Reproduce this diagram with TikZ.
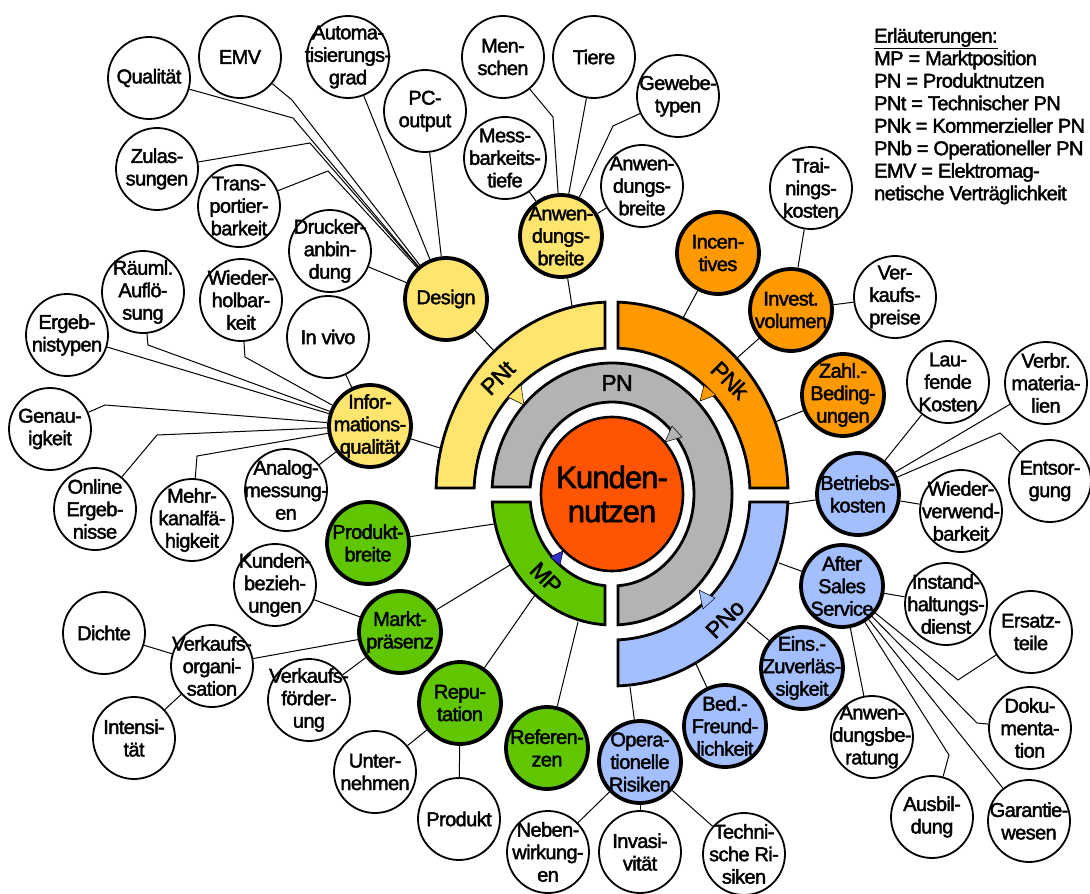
\documentclass[tikz,border=0pt]{standalone}
\usepackage{fontspec}
\setmainfont{Liberation Sans}[LetterSpace=-3, FakeBold=2]
\usetikzlibrary{shapes.geometric}
\newcommand\nf{\fontsize{20}{22.5}\selectfont}
\newcommand\cf{\fontsize{31}{34}\selectfont}
\newcommand\rf{\fontsize{23}{25}\selectfont}
\definecolor{cyel}{HTML}{FFE46E}
\definecolor{corg}{HTML}{FF9900}
\definecolor{cblu}{HTML}{A3BFFF}
\definecolor{cgrn}{HTML}{5FC600}
\definecolor{cgry}{HTML}{B3B3B3}
\definecolor{cred}{HTML}{FF5500}
\definecolor{cdblu}{HTML}{3030C8}
\tikzset{
  tx/.style={align=center, font=\nf, inner sep=0pt},
  ctx/.style={align=center, font=\cf, inner sep=0pt},
  rl/.style={font=\rf, inner sep=0pt},
  basec/.style={circle, inner sep=0pt, draw=black, minimum size=82pt},
  wnode/.style={basec, line width=1.8pt, fill=white, label={[tx]center:{#1}}},
  ynode/.style={basec, line width=3.8pt, fill=cyel, label={[tx]center:{#1}}},
  onode/.style={basec, line width=3.8pt, fill=corg, label={[tx]center:{#1}}},
  bnode/.style={basec, line width=3.8pt, fill=cblu, label={[tx]center:{#1}}},
  gnode/.style={basec, line width=3.8pt, fill=cgrn, label={[tx]center:{#1}}},
  con/.style={draw=black, line width=1pt},
  ring/.style={draw=black, line width=2.8pt, line join=miter},
  tri/.style={draw=black, line width=0.5pt},
}
\begin{document}
\begin{tikzpicture}[x=1pt, y=-1pt]
\useasboundingbox (0,0) rectangle (1090,894);
\fill[white] (0,0) rectangle (1090,894);

% ---------- rings ----------
\begin{scope}[shift={(612,494)}]
  % PNt (yellow)
  \path[ring, fill=cyel] (92.28:176pt and 192pt)
    arc[start angle=92.28, end angle=178.21, x radius=176pt, y radius=192pt]
    -- (177.64:138pt and 146pt)
    arc[start angle=177.64, end angle=92.91, x radius=138pt, y radius=146pt] -- cycle;
  % PNk (orange)
  \path[ring, fill=corg] (1.79:176pt and 192pt)
    arc[start angle=1.79, end angle=88.05, x radius=176pt, y radius=192pt]
    -- (87.51:138pt and 146pt)
    arc[start angle=87.51, end angle=2.36, x radius=138pt, y radius=146pt] -- cycle;
  % PNo (blue)
  \path[ring, fill=cblu] (-88.05:176pt and 192pt)
    arc[start angle=-88.05, end angle=-2.39, x radius=176pt, y radius=192pt]
    -- (-3.14:138pt and 146pt)
    arc[start angle=-3.14, end angle=-87.51, x radius=138pt, y radius=146pt] -- cycle;
  % PN (gray)
  \path[ring, fill=cgry] (-87.13:120pt and 131pt)
    arc[start angle=-87.13, end angle=176.94, x radius=120pt, y radius=131pt]
    -- (175.64:82pt and 92pt)
    arc[start angle=175.64, end angle=-85.80, x radius=82pt, y radius=92pt] -- cycle;
  % MP (green)
  \path[ring, fill=cgrn] (183.50:120pt and 131pt)
    arc[start angle=183.50, end angle=266.66, x radius=120pt, y radius=131pt]
    -- (265.10:82pt and 92pt)
    arc[start angle=265.10, end angle=184.99, x radius=82pt, y radius=92pt] -- cycle;
\end{scope}

% arrowheads
\path[tri, fill=cyel] (508,397) -- (521,385) -- (524,405) -- cycle;
\path[tri, fill=corg] (704,385) -- (716,395) -- (700,401) -- cycle;
\path[tri, fill=cgry] (672,426) -- (682,437) -- (665,442) -- cycle;
\path[tri, fill=cdblu] (550,557) -- (560,565) -- (563,551) -- cycle;
\path[tri, fill=cblu] (703,609) -- (715,598) -- (699,590) -- cycle;

% ring labels
\node[rl, rotate=45] (lPNt) at (498,378) {PNt};
\node[rl, rotate=-45] (lPNk) at (730,380) {PNk};
\node[rl, rotate=45] (lPNo) at (725,619) {PNo};
\node[rl, rotate=-45] (lMP) at (546,578) {MP};
\node[rl] (lPN) at (617,383) {PN};

% center
\node[ellipse, draw=black, line width=2.6pt, fill=cred, inner sep=0pt,
      minimum width=142pt, minimum height=154pt,
      label={[ctx]center:{Kunden-\\nutzen}}] (kn) at (612,494) {};

% ---------- Design group ----------
\node[wnode={Qualität}] (qual) at (149,78) {};
\node[wnode={EMV}] (emv) at (240,57) {};
\node[wnode={Automa-\\tisierungs-\\grad}] (auto) at (348,57) {};
\node[wnode={PC-\\output}] (pc) at (425,111) {};
\node[wnode={Zulas-\\sungen}] (zul) at (157,169) {};
\node[wnode={Trans-\\portier-\\barkeit}] (trans) at (239,206) {};
\node[wnode={Drucker-\\anbin-\\dung}] (druck) at (330,251) {};
\node[ynode={Design}] (design) at (446,299) {};

% ---------- Anwendungsbreite group ----------
\node[wnode={Men-\\schen}] (mensch) at (503,57) {};
\node[wnode={Tiere}] (tiere) at (594,57) {};
\node[wnode={Gewebe-\\typen}] (gewebe) at (678,96) {};
\node[wnode={Mess-\\barkeits-\\tiefe}] (mess) at (505,158) {};
\node[wnode={Anwen-\\dungs-\\breite}] (anwbw) at (642,186) {};
\node[ynode={Anwen-\\dungs-\\breite}] (anwb) at (561,236) {};

% ---------- Informationsqualitaet group ----------
\node[wnode={Räuml.\\Auflö-\\sung}] (raeuml) at (143,292) {};
\node[wnode={Wieder-\\holbar-\\keit}] (wdh) at (241,300) {};
\node[wnode={In vivo}] (invivo) at (328,337) {};
\node[wnode={Ergeb-\\nistypen}] (ergtyp) at (67,335) {};
\node[wnode={Genau-\\igkeit}] (genau) at (50,429) {};
\node[wnode={Online\\Ergeb-\\nisse}] (online) at (95,509) {};
\node[wnode={Mehr-\\kanalfä-\\higkeit}] (mehr) at (192,520) {};
\node[wnode={Analog-\\messung-\\en}] (analog) at (286,490) {};
\node[ynode={Infor-\\mations-\\qualität}] (info) at (370,426) {};

% ---------- MP group ----------
\node[gnode={Produkt-\\breite}] (pbreite) at (368,543) {};
\node[wnode={Kunden-\\bezieh-\\ungen}] (kunden) at (275,585) {};
\node[gnode={Markt-\\präsenz}] (markt) at (400,632) {};
\node[wnode={Dichte}] (dichte) at (104,633) {};
\node[wnode={Verkaufs-\\organi-\\sation}] (vorg) at (212,666) {};
\node[wnode={Intensi-\\tät}] (intens) at (134,738) {};
\node[wnode={Verkaufs-\\förder-\\ung}] (vfoerd) at (309,700) {};
\node[gnode={Repu-\\tation}] (repu) at (460,703) {};
\node[wnode={Unter-\\nehmen}] (unter) at (375,772) {};
\node[wnode={Produkt}] (produkt) at (459,819) {};
\node[gnode={Referen-\\zen}] (refer) at (547,748) {};

% ---------- PNo group ----------
\node[bnode={Opera-\\tionelle\\Risiken}] (oprisk) at (640,762) {};
\node[wnode={Neben-\\wirkung-\\en}] (neben) at (548,852) {};
\node[wnode={Invasi-\\vität}] (invas) at (640,852) {};
\node[wnode={Techni-\\sche Ri-\\siken}] (techn) at (744,854) {};
\node[bnode={Bed.-\\Freund-\\lichkeit}] (bedfr) at (725,726) {};
\node[bnode={Eins.-\\Zuverläs-\\sigkeit}] (einsz) at (802,668) {};
\node[bnode={After\\Sales\\Service}] (ass) at (842,586) {};
\node[wnode={Instand-\\haltungs-\\dienst}] (instand) at (946,604) {};
\node[wnode={Ersatz-\\teile}] (ersatz) at (1031,632) {};
\node[wnode={Doku-\\menta-\\tion}] (doku) at (1030,728) {};
\node[wnode={Garantie-\\wesen}] (garant) at (1029,821) {};
\node[wnode={Ausbil-\\dung}] (ausb) at (932,817) {};
\node[wnode={Anwen-\\dungsbe-\\ratung}] (anwber) at (872,737) {};
\node[bnode={Betriebs-\\kosten}] (betr) at (858,494) {};
\node[wnode={Lau-\\fende\\Kosten}] (lauf) at (948,382) {};
\node[wnode={Verbr.\\materia-\\lien}] (verbr) at (1046,383) {};
\node[wnode={Entsor-\\gung}] (entsorg) at (1050,481) {};
\node[wnode={Wieder-\\verwend-\\barkeit}] (wiederv) at (961,511) {};

% ---------- PNk group ----------
\node[onode={Incen-\\tives}] (incent) at (718,253) {};
\node[onode={Invest.\\volumen}] (invest) at (791,310) {};
\node[onode={Zahl.-\\Beding-\\ungen}] (zahl) at (843,395) {};
\node[wnode={Trai-\\nings-\\kosten}] (train) at (811,188) {};
\node[wnode={Ver-\\kaufs-\\preise}] (vpreise) at (895,297) {};

% ---------- legend ----------
\node[anchor=north west, align=left, font=\nf, inner sep=0pt] (legend) at (874,28)
  {\underline{Erläuterungen:}\\MP = Marktposition\\PN = Produktnutzen\\PNt = Technischer PN\\PNk = Kommerzieller PN\\PNb = Operationeller PN\\EMV = Elektromag-\\netische Verträglichkeit};

% ---------- ring attach points ----------
\coordinate (rDesign) at (495,352);
\coordinate (rAnwb) at (572,306);
\coordinate (rInfo) at (440,448);
\coordinate (rIncent) at (683,318);
\coordinate (rInvest) at (737,358);
\coordinate (rZahl) at (775,422);
\coordinate (rBetr) at (787,504);
\coordinate (rASS) at (779,563);
\coordinate (rEins) at (747,622);
\coordinate (rBed) at (696,664);
\coordinate (rOp) at (630,687);
\coordinate (rRef) at (578,622);
\coordinate (rRepu) at (535,595);
\coordinate (rMarkt) at (510,565);
\coordinate (rPbreite) at (494,524);

% bend points
\coordinate (bEmv) at (292,100);
\coordinate (bQual) at (293,118);
\coordinate (bZul) at (310,143);
\coordinate (bTrans) at (328,171);
\coordinate (bMensch) at (553,117);
\coordinate (bGewebe) at (613,126);
\coordinate (bRaeuml) at (148,345);
\coordinate (bWdh) at (245,357);
\coordinate (bGenau) at (105,405);
\coordinate (bOnline) at (157,435);
\coordinate (bMehr) at (197,456);
\coordinate (bEntsorg) at (1000,433);
\coordinate (bErsatz) at (958,680);
\coordinate (bDoku) at (977,723);
\coordinate (bAusb) at (949,755);

% ---------- connectors ----------
\draw[con] (design) -- (rDesign);
\draw[con] (emv) -- (bEmv) -- (design);
\draw[con] (qual) -- (bQual) -- (design);
\draw[con] (zul) -- (bZul) -- (design);
\draw[con] (trans) -- (bTrans) -- (design);
\draw[con] (auto) -- (design);
\draw[con] (pc) -- (design);
\draw[con] (druck) -- (design);

\draw[con] (anwb) -- (rAnwb);
\draw[con] (mensch) -- (bMensch) -- (anwb);
\draw[con] (tiere) -- (anwb);
\draw[con] (gewebe) -- (bGewebe) -- (anwb);
\draw[con] (mess) -- (anwb);
\draw[con] (anwbw) -- (anwb);

\draw[con] (info) -- (rInfo);
\draw[con] (raeuml) -- (bRaeuml) -- (info);
\draw[con] (wdh) -- (bWdh) -- (info);
\draw[con] (ergtyp) -- (info);
\draw[con] (genau) -- (bGenau) -- (info);
\draw[con] (online) -- (bOnline) -- (info);
\draw[con] (mehr) -- (bMehr) -- (info);
\draw[con] (analog) -- (info);
\draw[con] (invivo) -- (info);

\draw[con] (incent) -- (rIncent);
\draw[con] (invest) -- (rInvest);
\draw[con] (zahl) -- (rZahl);
\draw[con] (train) -- (invest);
\draw[con] (vpreise) -- (invest);

\draw[con] (betr) -- (rBetr);
\draw[con] (lauf) -- (betr);
\draw[con] (verbr) -- (betr);
\draw[con] (entsorg) -- (bEntsorg) -- (betr);
\draw[con] (wiederv) -- (betr);

\draw[con] (ass) -- (rASS);
\draw[con] (instand) -- (ass);
\draw[con] (ersatz) -- (bErsatz) -- (ass);
\draw[con] (doku) -- (bDoku) -- (ass);
\draw[con] (garant) -- (ass);
\draw[con] (ausb) -- (bAusb) -- (ass);
\draw[con] (anwber) -- (ass);

\draw[con] (einsz) -- (rEins);
\draw[con] (bedfr) -- (rBed);
\draw[con] (oprisk) -- (rOp);
\draw[con] (oprisk) -- (neben);
\draw[con] (oprisk) -- (invas);
\draw[con] (oprisk) -- (techn);

\draw[con] (pbreite) -- (rPbreite);
\draw[con] (markt) -- (rMarkt);
\draw[con] (markt) -- (kunden);
\draw[con] (markt) -- (vorg);
\draw[con] (markt) -- (vfoerd);
\draw[con] (vorg) -- (dichte);
\draw[con] (vorg) -- (intens);
\draw[con] (repu) -- (rRepu);
\draw[con] (repu) -- (unter);
\draw[con] (repu) -- (produkt);
\draw[con] (refer) -- (rRef);
\end{tikzpicture}
\end{document}
